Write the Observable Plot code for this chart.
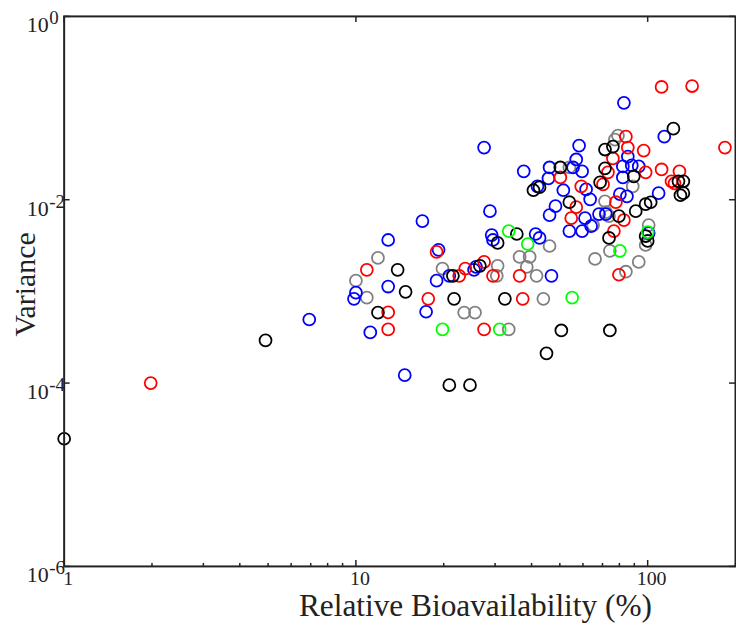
<!DOCTYPE html>
<html>
<head>
<meta charset="utf-8">
<script src="https://cdn.jsdelivr.net/npm/d3@7"></script>
<script src="https://cdn.jsdelivr.net/npm/@observablehq/plot@0.6"></script>
<style>
html, body { margin: 0; padding: 0; background: #fff; overflow: hidden; width: 736px; height: 630px; }
#chart { width: 736px; height: 630px; overflow: hidden; }
</style>
</head>
<body>
<div id="chart"></div>
<script>
// ---- data (Relative Bioavailability %, Variance) ----
const blueBio = [6.92,10.0,9.85,11.2,12.9,12.9,14.7,16.9,17.4,19.2,18.9,20.9,25.4,25.8,27.5,28.8,29.2,29.5,37.6,41.3,42.6,41.9,46.1,45.7,46.8,48.3,46.1,51.4,53.9,59.6,61.0,61.5,63.5,68.1,58.2,56.9,55.5,59.6,82.2,85.5,88.2,93.2,82.2,80.3,84.9,82.9,114,109,100.8,71.9,64.0];
const blueVar = [4.94e-4,9.7e-4,8.3e-4,3.57e-4,3.64e-3,1.13e-3,1.22e-4,5.85e-3,6.0e-4,2.84e-3,1.31e-3,1.48e-3,1.72e-3,1.85e-3,0.0371,7.51e-3,4.12e-3,3.64e-3,0.0204,4.23e-3,3.83e-3,0.0140,0.0225,0.0171,1.48e-3,8.51e-3,6.8e-3,0.0127,4.55e-3,4.55e-3,6.3e-3,0.0130,0.0101,6.97e-3,0.0390,0.0275,0.0225,0.0204,0.0231,0.0296,0.0237,0.0231,0.0175,0.0115,0.0109,0.114,0.0488,0.0118,4.33e-3,6.97e-3,5.16e-3];

const redBio = [1.98,10.9,12.9,12.9,17.7,18.9,22.6,23.7,27.5,29.5,27.5,36.4,37.3,50.2,59.2,56.9,54.7,70.3,73.1,76.0,77.8,76.6,82.9,79.7,84.2,85.5,96.9,98.4,111.6,128.5,120.7,111.6,142,184,123.6];
const redVar = [1.0e-4,1.72e-3,5.9e-4,3.85e-4,8.3e-4,2.7e-3,1.48e-3,1.77e-3,2.1e-3,1.48e-3,3.85e-4,1.48e-3,8.3e-4,0.0175,0.0140,8.3e-3,6.3e-3,0.0147,0.0199,0.0282,9.4e-3,4.55e-3,6.0e-3,1.52e-3,0.0488,0.0371,0.0344,0.0199,0.0214,0.0204,0.0159,0.170,0.174,0.0371,0.0151];

const blackBio = [1.0,4.90,11.9,13.9,14.8,21.5,21.7,30.6,26.6,32.4,35.6,40.6,42.6,50.2,53.9,68.7,71.4,76.0,71.4,73.7,79.7,89.6,91.0,98.4,102.4,98.4,100,122.5,127.5,132.5,129.5,132.5,45.0,50.6,74.2,20.9,24.6];
const blackVar = [2.47e-5,2.92e-4,5.88e-4,1.72e-3,9.9e-4,1.48e-3,8.3e-4,3.38e-3,1.90e-3,8.3e-4,4.23e-3,0.0127,0.0137,0.0225,9.4e-3,0.0155,0.0353,0.0380,0.0220,3.83e-3,6.63e-3,0.0180,7.51e-3,8.94e-3,9.39e-3,4.02e-3,3.55e-3,0.0596,0.0159,0.0159,0.0112,0.0118,2.11e-4,3.75e-4,3.75e-4,9.5e-5,9.5e-5];

const grayBio = [10.0,10.9,11.9,19.8,23.5,25.6,33.4,30.6,30.4,36.4,39.4,38.5,41.6,43.9,46.1,53.9,88.9,71.4,71.9,73.7,65.0,100.8,98.4,74.2,66.0,93.2,84.2,77.2,79.1];
const grayVar = [1.31e-3,8.55e-4,2.32e-3,1.77e-3,5.88e-4,5.88e-4,3.85e-4,1.90e-3,1.48e-3,2.38e-3,2.38e-3,1.85e-3,1.48e-3,8.3e-4,3.13e-3,0.0225,0.0140,9.63e-3,7.32e-3,6.63e-3,5.29e-3,5.29e-3,3.21e-3,2.77e-3,2.26e-3,2.10e-3,1.64e-3,0.0453,0.0500];

const greenBio = [19.8,31.1,33.4,38.8,55.1,80.3,100];
const greenVar = [3.85e-4,3.85e-4,4.55e-3,3.29e-3,8.55e-4,2.77e-3,4.44e-3];

const groups = ["Series G", "Series B", "Series R", "Series K", "Series N"];
const groupColors = ["#808080", "#0000ff", "#ff0000", "#000000", "#00ff00"];

// ---- axes ----
const xMajorTicks = [1, 10, 100];
const xMinorTicks = [2,3,4,5,6,7,8,9,20,30,40,50,60,70,80,90,200];
const xTickLabels = ["1", "10", "100"];
const yMajorTicks = [1, 1e-2, 1e-4, 1e-6];
const yTickExponents = ["0", "-2", "-4", "-6"];
const xTitle = "Relative Bioavailability (%)";
const yTitle = "Variance";

const seriesData = [
  [grayBio, grayVar],
  [blueBio, blueVar],
  [redBio, redVar],
  [blackBio, blackVar],
  [greenBio, greenVar]
];
const rows = [];
groups.forEach((g, k) => {
  const [xs, ys] = seriesData[k];
  xs.forEach((v, i) => rows.push({bio: v, variance: ys[i], group: g}));
});

const W = 740, H = 630, mL = 64, mR = 1, mT = 16, mB = 61;
const pw = W - mL - mR, ph = H - mT - mB;
const ink = "#222";
const font = "'Liberation Serif','Times New Roman',serif";

const chart = Plot.plot({
  width: W, height: H,
  marginLeft: mL, marginRight: mR, marginTop: mT, marginBottom: mB,
  style: {fontFamily: font, background: "#fff", overflow: "visible"},
  x: {type: "log", domain: [1, 200], axis: null},
  y: {type: "log", domain: [1e-6, 1], axis: null},
  color: {type: "ordinal", domain: groups, range: groupColors},
  marks: [
    Plot.dot(rows, {x: "bio", y: "variance", stroke: "group", r: 6, strokeWidth: 1.8, fill: "none"}),
    Plot.tickX(xMajorTicks, {x: d => d, insetTop: ph - 6, stroke: ink, strokeWidth: 1.5}),
    Plot.tickX(xMinorTicks, {x: d => d, insetTop: ph - 3, stroke: ink, strokeWidth: 1.5}),
    Plot.tickX(xMajorTicks, {x: d => d, insetBottom: ph - 6, stroke: ink, strokeWidth: 1.5}),
    Plot.tickY(yMajorTicks, {y: d => d, insetRight: pw - 6, stroke: ink, strokeWidth: 1.5}),
    Plot.tickY(yMajorTicks, {y: d => d, insetLeft: pw - 6, stroke: ink, strokeWidth: 1.5}),
    Plot.frame({stroke: ink, strokeWidth: 2}),
    Plot.text(yMajorTicks, {y: d => d, frameAnchor: "left", text: () => "10", textAnchor: "end", dx: -15.5, dy: 9, fontSize: 22, fill: ink}),
    Plot.text(yMajorTicks, {y: d => d, frameAnchor: "left", text: (d, i) => yTickExponents[i], textAnchor: "start", dx: -15, dy: 2, fontSize: 19, fill: ink}),
    Plot.text(xMajorTicks, {x: d => d, frameAnchor: "bottom", text: (d, i) => xTickLabels[i], dx: 4, dy: 4, lineAnchor: "top", fontSize: 20, fill: ink}),
    Plot.text([xTitle], {frameAnchor: "bottom", text: d => d, textAnchor: "middle", dx: 76, dy: 40, lineAnchor: "middle", fontSize: 31.5, fill: ink}),
    Plot.text([yTitle], {frameAnchor: "left", text: d => d, textAnchor: "middle", rotate: -90, dx: -39, dy: -7, lineAnchor: "middle", fontSize: 30, fill: ink})
  ]
});
document.getElementById("chart").appendChild(chart);
</script>
</body>
</html>
